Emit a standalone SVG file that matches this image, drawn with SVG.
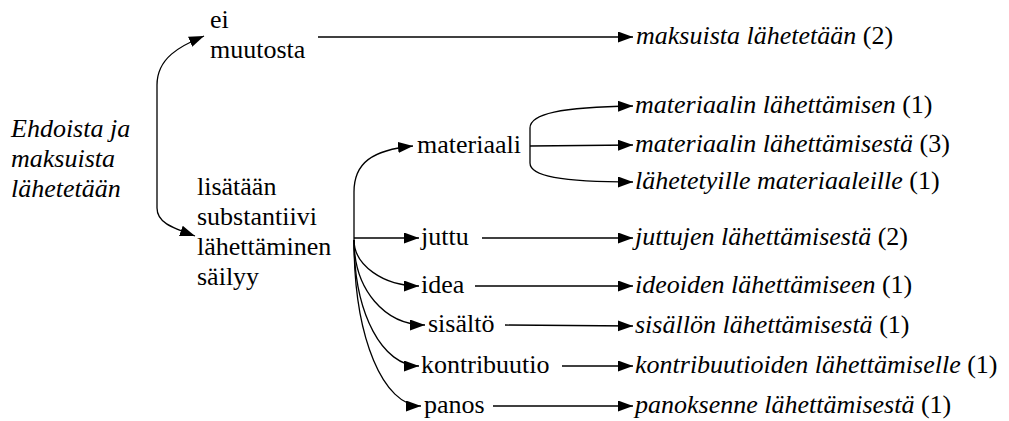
<svg xmlns="http://www.w3.org/2000/svg" width="1009" height="421" viewBox="0 0 1009 421">
<defs>
<marker id="ah" markerUnits="userSpaceOnUse" markerWidth="16" markerHeight="12" refX="15" refY="5.5" orient="auto">
<path d="M0,0 L15,5.5 L0,11 z" fill="#000"/>
</marker>
</defs>
<rect width="1009" height="421" fill="#fff"/>
<g id="connectors" fill="none" stroke="#000" stroke-width="1.3" marker-end="url(#ah)">
<path d="M157,150 L157,85 C157,58 180,46 204,36"/>
<path d="M157,150 L157,208 C157,222 170,227 195,236"/>
<path d="M318,37 L633,37"/>
<path d="M354,242 L354,192 C354,163 372,150 413,146"/>
<path d="M530,146 L530,128 C530,114 560,107 633,106"/>
<path d="M530,146 L633,145"/>
<path d="M530,146 L530,163 C530,176 560,182 633,182"/>
<path d="M354,238 L419,238"/>
<path d="M354,240 C354,265 383,286 419,286"/>
<path d="M354,240 C354,290 385,325 425,325"/>
<path d="M354,240 C354,315 383,366 419,366"/>
<path d="M354,240 C354,340 384,406 421,406"/>
<path d="M482,238 L633,238"/>
<path d="M475,286 L633,286"/>
<path d="M505,325 L633,326"/>
<path d="M562,366 L633,366"/>
<path d="M493,406 L633,406"/>
</g>
<g id="n-root"><text font-family="Liberation Serif" font-size="26" font-style="italic" x="11" y="137">Ehdoista ja</text><text font-family="Liberation Serif" font-size="26" font-style="italic" x="11" y="167">maksuista</text><text font-family="Liberation Serif" font-size="26" font-style="italic" x="11" y="197">lähetetään</text></g>
<g id="n-ei-muutosta"><text font-family="Liberation Serif" font-size="26" x="210" y="28">ei</text><text font-family="Liberation Serif" font-size="26" x="210" y="58">muutosta</text></g>
<g id="n-maksuista"><text font-family="Liberation Serif" font-size="26" x="636" y="44"><tspan font-style="italic">maksuista lähetetään</tspan> (2)</text></g>
<g id="n-lisataan"><text font-family="Liberation Serif" font-size="26" x="197" y="195">lisätään</text><text font-family="Liberation Serif" font-size="26" x="197" y="225">substantiivi</text><text font-family="Liberation Serif" font-size="26" x="197" y="255">lähettäminen</text><text font-family="Liberation Serif" font-size="26" x="197" y="285">säilyy</text></g>
<g id="n-materiaali"><text font-family="Liberation Serif" font-size="26" x="417" y="153">materiaali</text></g>
<g id="n-mat1"><text font-family="Liberation Serif" font-size="26" x="635" y="113"><tspan font-style="italic">materiaalin lähettämisen</tspan> (1)</text></g>
<g id="n-mat2"><text font-family="Liberation Serif" font-size="26" x="635" y="152"><tspan font-style="italic">materiaalin lähettämisestä</tspan> (3)</text></g>
<g id="n-mat3"><text font-family="Liberation Serif" font-size="26" x="635" y="189"><tspan font-style="italic">lähetetyille materiaaleille</tspan> (1)</text></g>
<g id="n-juttu"><text font-family="Liberation Serif" font-size="26" x="421" y="245">juttu</text></g>
<g id="n-juttu2"><text font-family="Liberation Serif" font-size="26" x="635" y="245"><tspan font-style="italic">juttujen lähettämisestä</tspan> (2)</text></g>
<g id="n-idea"><text font-family="Liberation Serif" font-size="26" x="421" y="293">idea</text></g>
<g id="n-idea2"><text font-family="Liberation Serif" font-size="26" x="635" y="293"><tspan font-style="italic">ideoiden lähettämiseen</tspan> (1)</text></g>
<g id="n-sisalto"><text font-family="Liberation Serif" font-size="26" x="428" y="332">sisältö</text></g>
<g id="n-sisalto2"><text font-family="Liberation Serif" font-size="26" x="635" y="333"><tspan font-style="italic">sisällön lähettämisestä</tspan> (1)</text></g>
<g id="n-kontribuutio"><text font-family="Liberation Serif" font-size="26" x="421" y="373">kontribuutio</text></g>
<g id="n-kontribuutio2"><text font-family="Liberation Serif" font-size="26" x="635" y="373"><tspan font-style="italic">kontribuutioiden lähettämiselle</tspan> (1)</text></g>
<g id="n-panos"><text font-family="Liberation Serif" font-size="26" x="424" y="413">panos</text></g>
<g id="n-panos2"><text font-family="Liberation Serif" font-size="26" x="635" y="413"><tspan font-style="italic">panoksenne lähettämisestä</tspan> (1)</text></g>
</svg>
